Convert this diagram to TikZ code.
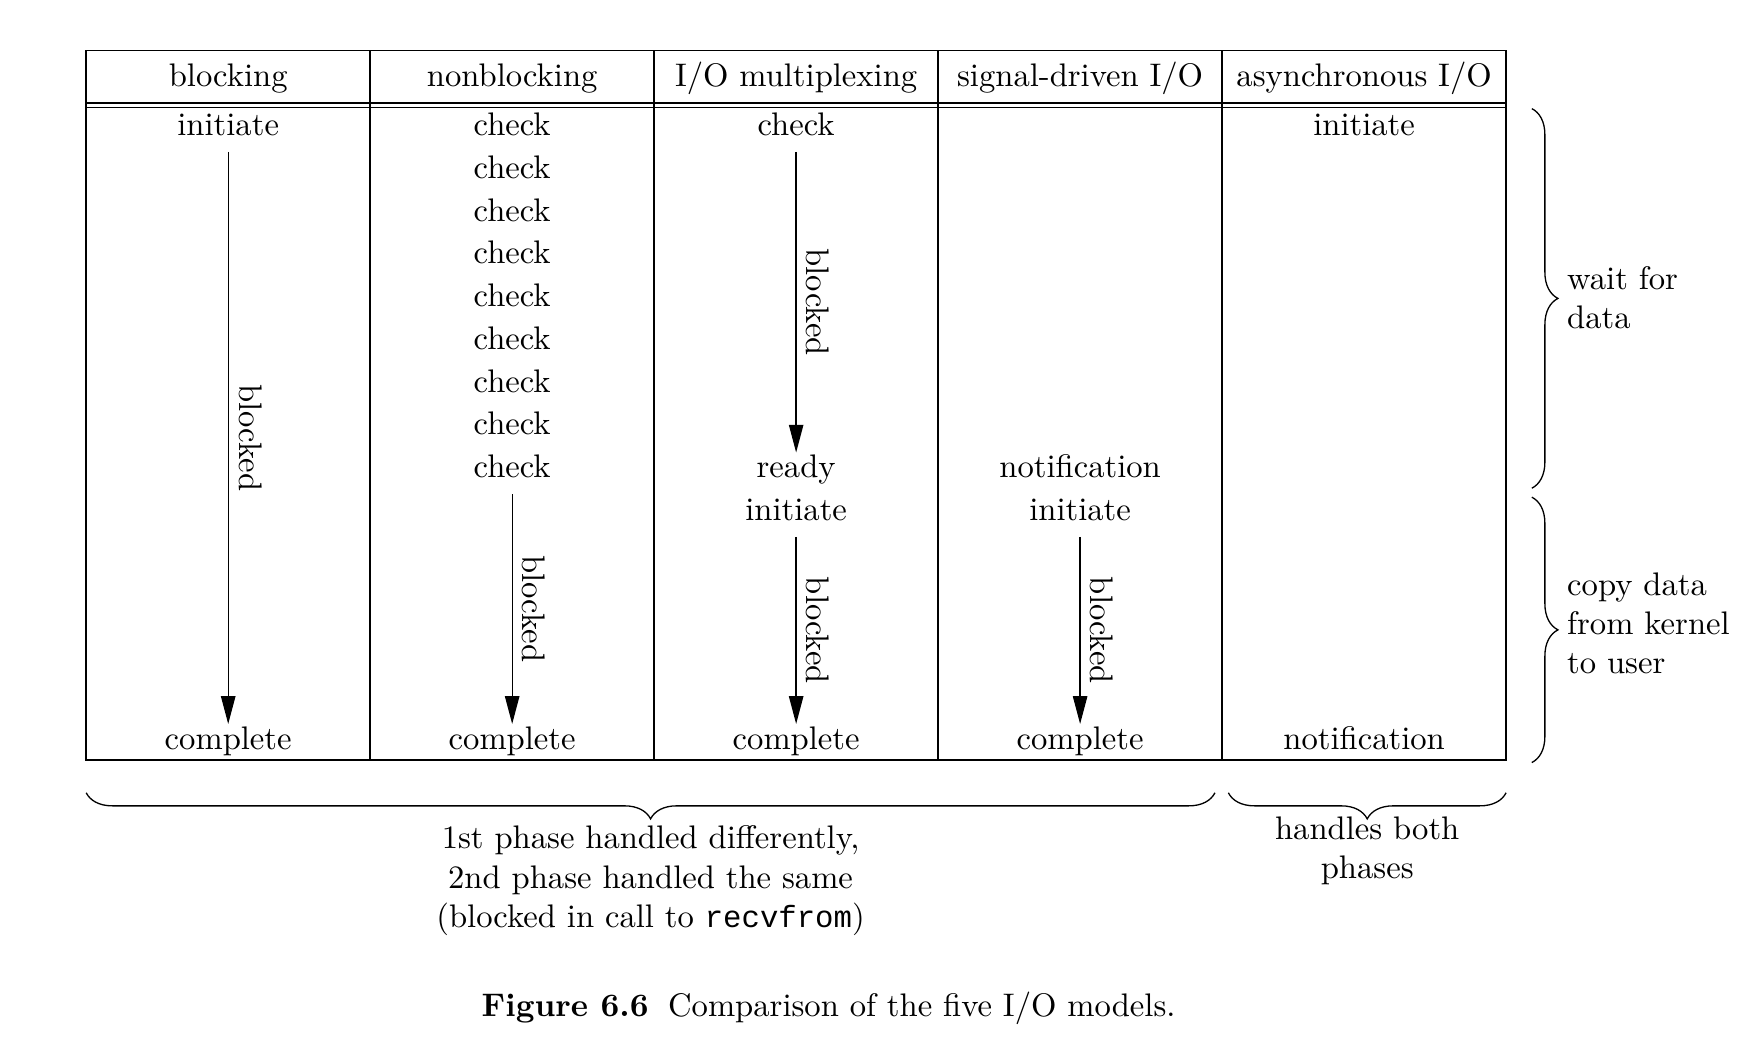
\documentclass[tikz,border=0pt]{standalone}
\usepackage{fontspec}
\setmonofont{Liberation Mono}
\usepackage{tikz}
\usetikzlibrary{arrows.meta,decorations.pathreplacing}
\tikzset{%
  cell/.style={anchor=base, inner sep=2.3pt, text height=5.2pt, text depth=2.5pt, font=\fontsize{10pt}{12pt}\selectfont},%
  notetext/.style={inner sep=0pt, font=\fontsize{10pt}{12pt}\selectfont},%
  blockarrow/.style={-{Triangle[length=8.5pt,width=4.4pt]}, line width=0.4pt},%
  blockedlabel/.style={rotate=-90, anchor=south, inner sep=3pt, font=\fontsize{10pt}{12pt}\selectfont},%
  phasebrace/.style={decorate, decoration={brace, amplitude=8pt}, line width=0.4pt}%
}

\begin{document}
\begin{tikzpicture}[x=0.343pt, y=-0.343pt]%
\useasboundingbox (0,0) rectangle (1570,936);%
% table frame
\draw[line width=0.5pt] (77,45) rectangle (1345,679);%
\draw[line width=0.5pt] (77,91.8) -- (1345,91.8);%
\draw[line width=0.5pt] (77,96) -- (1345,96);%
\draw[line width=0.5pt] (330.6,45) -- (330.6,679);%
\draw[line width=0.5pt] (584.2,45) -- (584.2,679);%
\draw[line width=0.5pt] (837.8,45) -- (837.8,679);%
\draw[line width=0.5pt] (1091.4,45) -- (1091.4,679);%
% header
\node[cell] (hblocking) at (203.8,77) {blocking};%
\node[cell] (hnonblock) at (457.4,77) {nonblocking};%
\node[cell] (hmultiplex) at (711,77) {I/O multiplexing};%
\node[cell] (hsignal) at (964.6,77) {signal-driven I/O};%
\node[cell] (hasync) at (1218.2,77) {asynchronous I/O};%
% blocking
\node[cell] (binit) at (203.8,121) {initiate};%
\node[cell] (bdone) at (203.8,669) {complete};%
\draw[blockarrow] (binit) -- node[blockedlabel] {blocked} (bdone);%
% nonblocking
\node[cell] (ncheck1) at (457.4,121) {check};%
\node[cell] (ncheck2) at (457.4,159.2) {check};%
\node[cell] (ncheck3) at (457.4,197.4) {check};%
\node[cell] (ncheck4) at (457.4,235.6) {check};%
\node[cell] (ncheck5) at (457.4,273.8) {check};%
\node[cell] (ncheck6) at (457.4,312) {check};%
\node[cell] (ncheck7) at (457.4,350.2) {check};%
\node[cell] (ncheck8) at (457.4,388.4) {check};%
\node[cell] (ncheck9) at (457.4,426.6) {check};%
\node[cell] (ndone) at (457.4,669) {complete};%
\draw[blockarrow] (ncheck9) -- node[blockedlabel] {blocked} (ndone);%
% I/O multiplexing
\node[cell] (mcheck) at (711,121) {check};%
\node[cell] (mready) at (711,426.6) {ready};%
\node[cell] (minit) at (711,464.8) {initiate};%
\node[cell] (mdone) at (711,669) {complete};%
\draw[blockarrow] (mcheck) -- node[blockedlabel] {blocked} (mready);%
\draw[blockarrow] (minit) -- node[blockedlabel] {blocked} (mdone);%
% signal-driven I/O
\node[cell] (snotify) at (964.6,426.6) {notification};%
\node[cell] (sinit) at (964.6,464.8) {initiate};%
\node[cell] (sdone) at (964.6,669) {complete};%
\draw[blockarrow] (sinit) -- node[blockedlabel] {blocked} (sdone);%
% asynchronous I/O
\node[cell] (ainit) at (1218.2,121) {initiate};%
\node[cell] (anotify) at (1218.2,669) {notification};%
% phase braces
\coordinate (waittop) at (1368,97);%
\coordinate (waitbot) at (1368,436);%
\coordinate (copytop) at (1368,444);%
\coordinate (copybot) at (1368,681);%
\coordinate (diffright) at (1085,708);%
\coordinate (diffleft) at (77,708);%
\coordinate (bothright) at (1345,708);%
\coordinate (bothleft) at (1097,708);%
\draw[phasebrace] (waittop) -- (waitbot);%
\draw[phasebrace] (copytop) -- (copybot);%
\draw[phasebrace] (diffright) -- (diffleft);%
\draw[phasebrace] (bothright) -- (bothleft);%
\node[notetext, anchor=north west, align=left] (waitnote) at (1399,237) {wait for\\data};%
\node[notetext, anchor=north west, align=left] (copynote) at (1399,511) {copy data\\from kernel\\to user};%
\node[notetext, anchor=north, align=center] (diffnote) at (581,737) {1st phase handled differently,\\2nd phase handled the same\\(blocked in call to {\fontsize{9.4pt}{12pt}\selectfont\ttfamily recvfrom})};%
\node[notetext, anchor=north, align=center] (bothnote) at (1221,729) {handles both\\phases};%
% caption
\node[notetext, anchor=base] (caption) at (740,908) {\textbf{Figure 6.6}\hspace{0.6em}Comparison of the five I/O models.};%
\end{tikzpicture}
\end{document}
